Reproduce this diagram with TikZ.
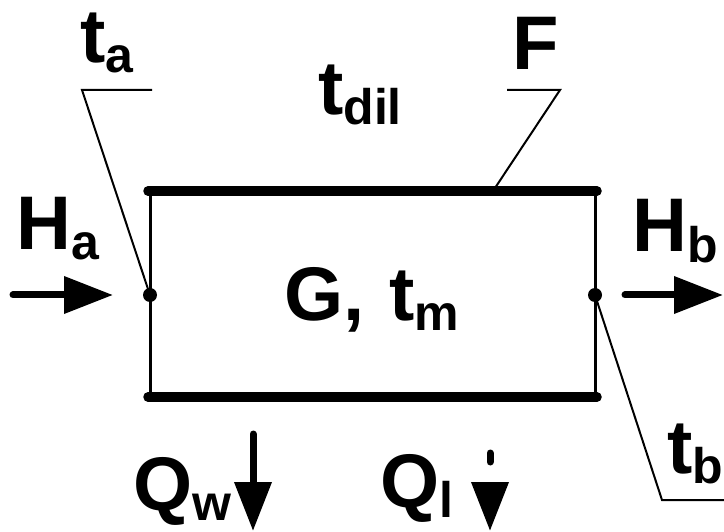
\documentclass[tikz,border=0pt]{standalone}
\usepackage{fontspec}
\setmainfont{Liberation Sans}
\usetikzlibrary{arrows.meta}
\newcommand\symb[2]{#1\raisebox{-10pt}{\fontsize{50}{50}\selectfont #2}}
\begin{document}
\begin{tikzpicture}[x=1pt,y=-1pt,
  lab/.style={anchor=base west,inner sep=0pt,font=\fontsize{76}{76}\selectfont\bfseries},
  wall/.style={line width=9.5pt,line cap=round},
  side/.style={line width=3pt},
  leader/.style={line width=2pt},
  flow/.style={line width=7pt,-{Triangle[length=49pt,width=36pt]}},
  jdot/.style={circle,fill=black,inner sep=0pt,minimum size=14pt}]
\useasboundingbox (0,0) rectangle (724,532);
% box corners
\coordinate (tl) at (148,191);
\coordinate (tr) at (597,191);
\coordinate (bl) at (148,397);
\coordinate (br) at (597,397);
\draw[side] (150,191) -- (150,397);
\draw[side] (595,191) -- (595,397);
\draw[wall] (tl) -- (tr);
\draw[wall] (bl) -- (br);
\node[jdot] (da) at (150,295) {};
\node[jdot] (db) at (595,295) {};
% labels
\node[lab] (ta) at (80,63) {\symb{t}{a}};
\node[lab] (tdil) at (318,115) {\symb{t}{dil}};
\node[lab] (F) at (512,70) {F};
\node[lab] (Ha) at (16,250) {\symb{H}{a}};
\node[lab] (Hb) at (632,252) {\symb{H}{b}};
\node[lab] (G) at (284,320) {G,\hspace{4pt} \symb{t}{m}};
\node[lab] (tb) at (667,473) {\symb{t}{b}};
\node[lab] (Qw) at (133,510) {\symb{Q}{w}};
\node[lab] (Ql) at (380,507) {\symb{Q}{l}};
% leaders
\coordinate (ta1) at (82,90);
\coordinate (ta2) at (152,90);
\draw[leader] (ta2) -- (ta1) -- (da.center);
\coordinate (F1) at (507,90);
\coordinate (F2) at (560,90);
\coordinate (F3) at (495,188);
\draw[leader] (F1) -- (F2) -- (F3);
\coordinate (tb1) at (662,500);
\coordinate (tb2) at (724,500);
\draw[leader] (db.center) -- (tb1) -- (tb2);
% flows
\coordinate (ha0) at (13,295);
\coordinate (ha1) at (113,295);
\draw[flow,line cap=round] (ha0) -- (ha1);
\coordinate (hb0) at (625,295);
\coordinate (hb1) at (723,295);
\draw[flow,line cap=round] (hb0) -- (hb1);
\coordinate (qw0) at (253,434);
\coordinate (qw1) at (253,531);
\draw[flow,line cap=round] (qw0) -- (qw1);
\coordinate (ql0) at (490,453);
\coordinate (ql1) at (490,531);
\draw[flow,line cap=round,dash pattern=on 9pt off 30pt] (ql0) -- (ql1);
\end{tikzpicture}
\end{document}
